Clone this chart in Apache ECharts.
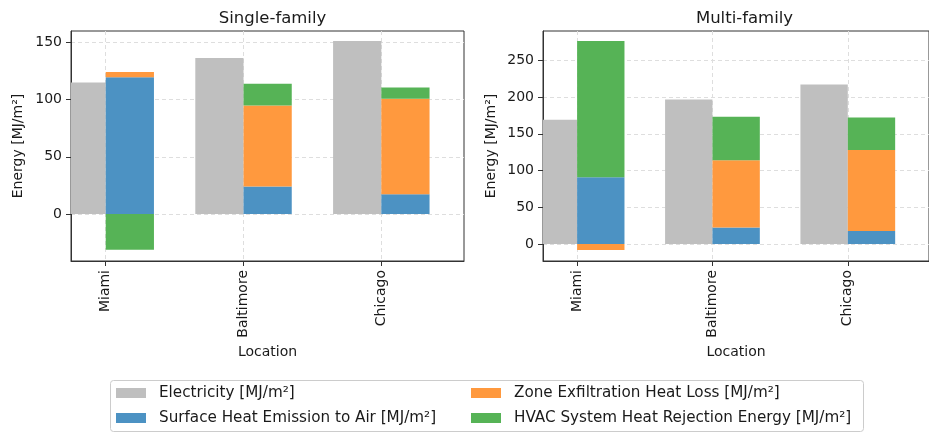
<!DOCTYPE html>
<html>
<head>
<meta charset="utf-8">
<script src="https://cdn.jsdelivr.net/npm/echarts@6/dist/echarts.min.js"></script>
<style>
html,body{margin:0;padding:0;background:#fff;}
#chart{width:929px;height:433px;}
</style>
</head>
<body>
<div id="chart"></div>
<script>
// ---- Data ----
const locations = ['Miami', 'Baltimore', 'Chicago'];
const seriesNames = [
  'Electricity [MJ/m²]',
  'Surface Heat Emission to Air [MJ/m²]',
  'Zone Exfiltration Heat Loss [MJ/m²]',
  'HVAC System Heat Rejection Energy [MJ/m²]'
];
// Single-family
const sfElectricity   = [115.0, 136.3, 151.1];
const sfSurface       = [119.5, 24.0, 17.2];
const sfExfiltration  = [4.5, 70.9, 83.4];
const sfHvac          = [-31.3, 18.9, 10.0];
// Multi-family
const mfElectricity   = [169.0, 196.8, 217.3];
const mfSurface       = [90.9, 22.3, 17.7];
const mfExfiltration  = [-8.2, 91.8, 110.4];
const mfHvac          = [185.4, 59.0, 44.2];
// Tick labels
const sfTicks = [0, 50, 100, 150];
const mfTicks = [0, 50, 100, 150, 200, 250];
const xTicks  = [0, 1, 2];

// ---- Styling ----
const colors = ['#bfbfbf', '#4c92c3', '#ff993e', '#56b356'];
const FONT = 'DejaVu Sans';
const TXT = '#1a1a1a';
const BAR_W = 0.35;

function renderBar(params, api) {
  const p0 = api.coord([api.value(0), api.value(2)]);
  const p1 = api.coord([api.value(1), api.value(3)]);
  const rect = {
    x: Math.min(p0[0], p1[0]), y: Math.min(p0[1], p1[1]),
    width: Math.abs(p1[0] - p0[0]), height: Math.abs(p1[1] - p0[1])
  };
  const cs = params.coordSys;
  const clipped = echarts.graphic.clipRectByRect(rect, {x: cs.x, y: cs.y, width: cs.width, height: cs.height});
  if (!clipped) return null;
  return {type: 'rect', shape: clipped, style: {fill: api.visual('color')}};
}

function buildSeries(elec, stacks, gridIdx) {
  const out = [];
  out.push({
    type: 'custom', name: seriesNames[0], xAxisIndex: gridIdx, yAxisIndex: gridIdx,
    itemStyle: {color: colors[0]}, renderItem: renderBar, encode: {x: [0, 1], y: [2, 3]},
    data: elec.map((v, i) => [i - BAR_W, i, 0, v]), z: 2
  });
  const pos = locations.map(() => 0), neg = locations.map(() => 0);
  stacks.forEach((arr, k) => {
    const data = arr.map((v, i) => {
      let lo, hi;
      if (v >= 0) { lo = pos[i]; hi = pos[i] + v; pos[i] = hi; }
      else { hi = neg[i]; lo = neg[i] + v; neg[i] = lo; }
      return [i, i + BAR_W, lo, hi];
    });
    out.push({
      type: 'custom', name: seriesNames[k + 1], xAxisIndex: gridIdx, yAxisIndex: gridIdx,
      itemStyle: {color: colors[k + 1]}, renderItem: renderBar, encode: {x: [0, 1], y: [2, 3]},
      data: data, z: 2
    });
  });
  return out;
}

function xAxisCfg(gridIdx) {
  return {
    type: 'value', gridIndex: gridIdx, min: -0.252, max: 2.6,
    name: 'Location', nameLocation: 'middle', nameGap: 82,
    nameTextStyle: {fontFamily: FONT, fontSize: 14, color: TXT},
    axisLine: {show: true, onZero: false, lineStyle: {color: '#333', width: 1}},
    axisTick: {show: true, customValues: xTicks, length: 5, lineStyle: {color: '#333'}},
    axisLabel: {customValues: xTicks, rotate: 90, margin: 9, fontFamily: FONT, fontSize: 14, color: TXT,
      formatter: v => locations[Math.round(v)]},
    splitLine: {show: true, lineStyle: {color: '#dedede', type: [4, 3], width: 1}}
  };
}
function yAxisCfg(gridIdx, min, max, ticks, gap) {
  return {
    type: 'value', gridIndex: gridIdx, min: min, max: max,
    name: 'Energy [MJ/m²]', nameLocation: 'middle', nameGap: gap,
    nameTextStyle: {fontFamily: FONT, fontSize: 14, color: TXT},
    axisLine: {show: true, onZero: false, lineStyle: {color: '#333', width: 1}},
    axisTick: {show: true, customValues: ticks, length: 5, lineStyle: {color: '#333'}},
    axisLabel: {customValues: ticks, margin: 9, fontFamily: FONT, fontSize: 14, color: TXT},
    splitLine: {show: true, lineStyle: {color: '#dedede', type: [4, 3], width: 1}}
  };
}

const legendText = {fontFamily: FONT, fontSize: 15.2, color: TXT, lineHeight: 16, padding: [0, 0, 0, 8]};

const chart = echarts.init(document.getElementById('chart'), null, {renderer: 'canvas'});
const option = {
  animation: false,
  backgroundColor: '#fff',
  textStyle: {fontFamily: FONT},
  title: [
    {text: 'Single-family', left: 267.5, top: 5, textAlign: 'center',
     textStyle: {fontFamily: FONT, fontSize: 16.5, fontWeight: 'normal', color: TXT}},
    {text: 'Multi-family', left: 739.5, top: 5, textAlign: 'center',
     textStyle: {fontFamily: FONT, fontSize: 16.5, fontWeight: 'normal', color: TXT}}
  ],
  grid: [
    {left: 71, top: 31, width: 393, height: 230, show: true, borderColor: '#333', borderWidth: 1, backgroundColor: 'transparent'},
    {left: 543, top: 31, width: 393, height: 230, show: true, borderColor: '#333', borderWidth: 1, backgroundColor: 'transparent'}
  ],
  xAxis: [xAxisCfg(0), xAxisCfg(1)],
  yAxis: [yAxisCfg(0, -41.1, 159.9, sfTicks, 46), yAxisCfg(1, -23.2, 290, mfTicks, 45)],
  graphic: [{
    type: 'rect', left: 110, top: 380, z: 0,
    shape: {width: 753, height: 51, r: 3},
    style: {fill: '#fff', stroke: '#cccccc', lineWidth: 1}
  }],
  legend: [
    {data: [seriesNames[0], seriesNames[1]], orient: 'vertical', left: 116, top: 385, padding: 0,
     itemWidth: 30, itemHeight: 10, itemGap: 9, icon: 'rect', z: 5, textStyle: legendText},
    {data: [seriesNames[2], seriesNames[3]], orient: 'vertical', left: 471, top: 385, padding: 0,
     itemWidth: 30, itemHeight: 10, itemGap: 9, icon: 'rect', z: 5, textStyle: legendText}
  ],
  series: [].concat(
    buildSeries(sfElectricity, [sfSurface, sfExfiltration, sfHvac], 0),
    buildSeries(mfElectricity, [mfSurface, mfExfiltration, mfHvac], 1)
  )
};
chart.setOption(option);
</script>
</body>
</html>
